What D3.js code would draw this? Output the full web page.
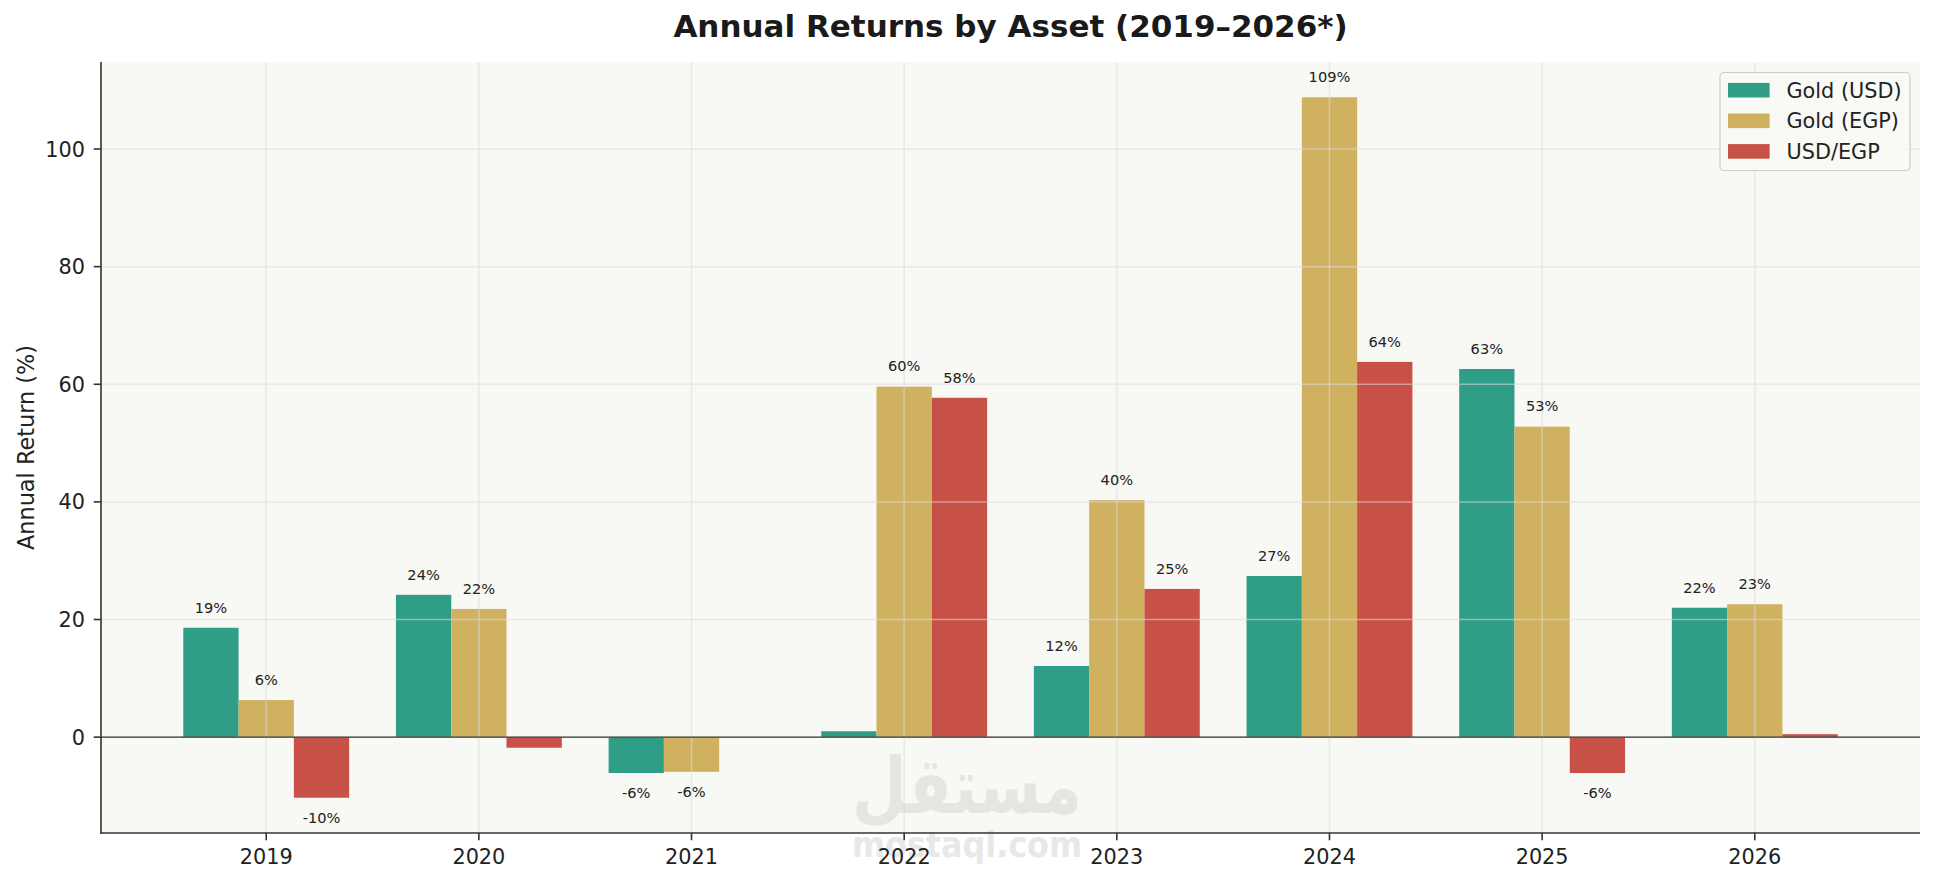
<!DOCTYPE html>
<html>
<head>
<meta charset="utf-8">
<script src="https://cdn.jsdelivr.net/npm/d3@7"></script>
<style>
  html, body { margin: 0; padding: 0; background: #ffffff; }
  svg { display: block; }
  text { font-family: "DejaVu Sans", sans-serif; }
</style>
</head>
<body>
<script>
// ---- Data ----
const years = ["2019", "2020", "2021", "2022", "2023", "2024", "2025", "2026"];
const goldUSD = [18.6, 24.2, -6.1, 1.0, 12.1, 27.4, 62.6, 22.0];
const goldEGP = [6.3, 21.8, -5.9, 59.6, 40.3, 108.8, 52.8, 22.6];
const usdEGP  = [-10.3, -1.8, 0.0, 57.7, 25.2, 63.8, -6.1, 0.5];
const seriesNames = ["Gold (USD)", "Gold (EGP)", "USD/EGP"];
const seriesColors = ["#309d86", "#cfb160", "#c75146"];
const yTicks = [0, 20, 40, 60, 80, 100];
const titleText = "Annual Returns by Asset (2019\u20132026*)";
const yLabelText = "Annual Return (%)";

const W = 1935, H = 883;
const margin = { left: 101, right: 15, top: 62, bottom: 50 };
const plotRight = W - margin.right, plotBottom = H - margin.bottom;

const svg = d3.select("body").append("svg").attr("width", W).attr("height", H);

const x = d3.scaleLinear().domain([-0.777, 7.777]).range([margin.left, plotRight]);
const y = d3.scaleLinear().domain([-16.3, 114.8]).range([plotBottom, margin.top]);
const barW = 0.26;

// plot background
svg.append("rect").attr("x", margin.left).attr("y", margin.top)
  .attr("width", plotRight - margin.left).attr("height", plotBottom - margin.top)
  .attr("fill", "#f8f8f5");

// watermark
const wm = svg.append("g").attr("opacity", 0.85);
wm.append("text").attr("x", 967).attr("y", 813).attr("text-anchor", "middle")
  .attr("font-size", 78).attr("font-weight", "bold").attr("fill", "#e2e2e0")
  .attr("textLength", 230).attr("lengthAdjust", "spacingAndGlyphs")
  .text("مستقل");
wm.append("text").attr("x", 967).attr("y", 857).attr("text-anchor", "middle")
  .attr("font-size", 36).attr("font-weight", "bold").attr("fill", "#e4e4e2")
  .attr("textLength", 230).attr("lengthAdjust", "spacingAndGlyphs")
  .text("mostaql.com");

// bars
const series = [goldUSD, goldEGP, usdEGP];
const offsets = [-barW, 0, barW];
series.forEach((vals, si) => {
  const g = svg.append("g");
  g.selectAll("rect").data(vals).join("rect")
    .attr("x", (d, i) => x(i + offsets[si] - barW / 2))
    .attr("width", (d, i) => x(i + offsets[si] + barW / 2) - x(i + offsets[si] - barW / 2))
    .attr("y", d => y(Math.max(0, d)))
    .attr("height", d => Math.abs(y(d) - y(0)))
    .attr("fill", seriesColors[si]);
});

// grid (drawn above bars, semi-transparent)
const grid = svg.append("g").attr("stroke", "#dcdcdc").attr("stroke-opacity", 0.55).attr("stroke-width", 1.5);
grid.selectAll("line.h").data(yTicks).join("line").attr("class", "h")
  .attr("x1", margin.left).attr("x2", plotRight)
  .attr("y1", d => y(d)).attr("y2", d => y(d));
grid.selectAll("line.v").data(years).join("line").attr("class", "v")
  .attr("y1", margin.top).attr("y2", plotBottom)
  .attr("x1", (d, i) => x(i)).attr("x2", (d, i) => x(i));

// zero line
svg.append("line").attr("x1", margin.left).attr("x2", plotRight)
  .attr("y1", y(0)).attr("y2", y(0)).attr("stroke", "#333").attr("stroke-width", 1.3);

// value labels
const lfs = 14.6;
series.forEach((vals, si) => {
  const items = vals.map((v, i) => ({ v, i })).filter(o => Math.abs(o.v) >= 3);
  svg.append("g").selectAll("text").data(items).join("text")
    .attr("x", o => x(o.i + offsets[si]))
    .attr("y", o => o.v >= 0 ? y(o.v + 2) - 3.4 : y(o.v - 2) + 13.6)
    .attr("text-anchor", "middle")
    .attr("font-size", lfs).attr("fill", "#222")
    .text(o => Math.round(o.v) + "%");
});

// axes
const xAxis = svg.append("g").attr("transform", `translate(0,${plotBottom})`);
xAxis.append("line").attr("x1", margin.left - 0.75).attr("x2", plotRight)
  .attr("y1", 0).attr("y2", 0).attr("stroke", "#333").attr("stroke-width", 1.6);
const xt = xAxis.selectAll("g.tick").data(years).join("g").attr("class", "tick")
  .attr("transform", (d, i) => `translate(${x(i)},0)`);
xt.append("line").attr("y1", 0).attr("y2", 7.3).attr("stroke", "#333").attr("stroke-width", 1.6);
xt.append("text").attr("y", 31).attr("text-anchor", "middle")
  .attr("font-size", 20.8).attr("fill", "#222").text(d => d);

const yAxis = svg.append("g").attr("transform", `translate(${margin.left},0)`);
yAxis.append("line").attr("x1", 0).attr("x2", 0)
  .attr("y1", margin.top).attr("y2", plotBottom + 0.75).attr("stroke", "#333").attr("stroke-width", 1.6);
const yt = yAxis.selectAll("g.tick").data(yTicks).join("g").attr("class", "tick")
  .attr("transform", d => `translate(0,${y(d)})`);
yt.append("line").attr("x1", 0).attr("x2", -7.3).attr("stroke", "#333").attr("stroke-width", 1.6);
yt.append("text").attr("x", -16).attr("y", 7.5).attr("text-anchor", "end")
  .attr("font-size", 20.8).attr("fill", "#222").text(d => d);

// y label
svg.append("text").attr("transform", `translate(34,${(margin.top + plotBottom) / 2}) rotate(-90)`)
  .attr("text-anchor", "middle").attr("font-size", 22.4).attr("fill", "#222").text(yLabelText);

// title
svg.append("text").attr("x", (margin.left + plotRight) / 2).attr("y", 37)
  .attr("text-anchor", "middle").attr("font-size", 31).attr("font-weight", "bold")
  .attr("fill", "#1a1a1a").text(titleText);

// legend
const leg = svg.append("g");
leg.append("rect").attr("x", 1720).attr("y", 72.5).attr("width", 190).attr("height", 98)
  .attr("rx", 4).attr("fill", "#f8f8f5").attr("fill-opacity", 0.9)
  .attr("stroke", "#cccccc").attr("stroke-width", 1.2);
const li = leg.selectAll("g.item").data(seriesNames).join("g").attr("class", "item")
  .attr("transform", (d, i) => `translate(1728,${90.2 + i * 30.6})`);
li.append("rect").attr("x", 0).attr("y", -7.3).attr("width", 41.6).attr("height", 14.6)
  .attr("fill", (d, i) => seriesColors[i]);
li.append("text").attr("x", 58.5).attr("y", 7.5).attr("font-size", 20.8).attr("fill", "#222").text(d => d);
</script>
</body>
</html>
